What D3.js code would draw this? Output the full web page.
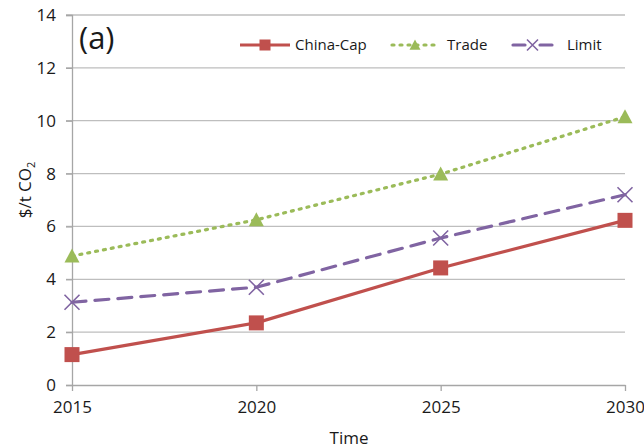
<!DOCTYPE html>
<html>
<head>
<meta charset="utf-8">
<script src="https://cdn.jsdelivr.net/npm/d3@7"></script>
<style>
  body { margin: 0; background: #fff; }
  svg text { font-family: "Open Sans", "Noto Sans", sans-serif; fill: #1a1a1a; }
</style>
</head>
<body>
<div id="chart"></div>
<script>
(function(){

var years = [2015, 2020, 2025, 2030];
var chinaCap = [1.15, 2.35, 4.43, 6.23];
var trade = [4.88, 6.25, 7.98, 10.15];
var limit = [3.13, 3.70, 5.56, 7.20];
var yTicks = [0, 2, 4, 6, 8, 10, 12, 14];

var series = [
  {name: "China-Cap", values: chinaCap, color: "#C0504D", dash: null, marker: "square"},
  {name: "Trade", values: trade, color: "#9BBB59", dash: "2,6", marker: "triangle"},
  {name: "Limit", values: limit, color: "#8064A2", dash: "14,9", marker: "x"}
];

var W = 644, H = 448;
var margin = {top: 15, right: 19, bottom: 63, left: 72};
var fs = "17px";

var svg = d3.select("#chart").append("svg")
  .attr("width", W).attr("height", H);

var x = d3.scalePoint().domain(years).range([margin.left, W - margin.right]);
var y = d3.scaleLinear().domain([0, 14]).range([H - margin.bottom, margin.top]);

// gridlines
svg.append("g")
  .selectAll("line")
  .data(yTicks.filter(function(d){ return d > 0; }))
  .enter().append("line")
    .attr("x1", margin.left - 6).attr("x2", W - margin.right)
    .attr("y1", function(d){ return y(d); }).attr("y2", function(d){ return y(d); })
    .style("stroke", "#BEBEBE").style("stroke-width", 1.3);

// y axis
var yAxis = svg.append("g")
  .attr("transform", "translate(" + margin.left + ",0)")
  .call(d3.axisLeft(y).tickValues(yTicks).tickSize(6).tickPadding(10))
  .attr("font-size", null).attr("font-family", null);
yAxis.select(".domain").style("stroke", "#A6A6A6").style("stroke-width", 1.3);
yAxis.selectAll(".tick line").style("stroke", "#A6A6A6").style("stroke-width", 1.3);
yAxis.selectAll("text").style("font-size", fs);

// x axis
var xAxis = svg.append("g")
  .attr("transform", "translate(0," + y(0) + ")")
  .call(d3.axisBottom(x).tickSize(6).tickSizeOuter(0).tickPadding(10))
  .attr("font-size", null).attr("font-family", null);
xAxis.select(".domain").style("stroke", "#A6A6A6").style("stroke-width", 1.3);
xAxis.selectAll(".tick line").style("stroke", "#A6A6A6").style("stroke-width", 1.3);
xAxis.selectAll("text").style("font-size", fs);

// axis titles
svg.append("text")
  .attr("x", 349)
  .attr("y", 444)
  .attr("text-anchor", "middle")
  .style("font-size", fs)
  .text("Time");

var yl = svg.append("text")
  .attr("transform", "translate(31,190) rotate(-90)")
  .attr("text-anchor", "middle")
  .style("font-size", fs);
yl.append("tspan").text("$/t CO");
yl.append("tspan").attr("dy", 4).style("font-size", "11px").text("2");

// panel label
svg.append("text")
  .attr("x", 79).attr("y", 49)
  .style("font-size", "31px")
  .text("(a)");

function drawMarker(g, type, color, size) {
  var s = size / 2;
  if (type === "square") {
    g.append("rect").attr("x", -s).attr("y", -s).attr("width", size).attr("height", size)
      .style("fill", color);
  } else if (type === "triangle") {
    g.append("path").attr("d", "M0," + (-s) + "L" + s + "," + (s * 0.85) + "L" + (-s) + "," + (s * 0.85) + "Z")
      .style("fill", color);
  } else {
    g.append("path").attr("d", "M" + (-s) + "," + (-s) + "L" + s + "," + s + "M" + s + "," + (-s) + "L" + (-s) + "," + s)
      .style("stroke", color).style("stroke-width", 1.6).style("fill", "none");
  }
}

var line = d3.line()
  .x(function(d, i){ return x(years[i]); })
  .y(function(d){ return y(d); });

series.forEach(function(s) {
  svg.append("path")
    .datum(s.values)
    .attr("d", line)
    .style("fill", "none")
    .style("stroke", s.color)
    .style("stroke-width", 3.2)
    .style("stroke-linecap", s.dash ? "round" : "butt")
    .style("stroke-dasharray", s.dash);
  s.values.forEach(function(v, i) {
    var g = svg.append("g").attr("transform", "translate(" + x(years[i]) + "," + y(v) + ")");
    drawMarker(g, s.marker, s.color, 15);
  });
});

// legend
var legendX = [240, 392, 513];
var legendLen = [50, 46, 39];
var textX = [295, 447, 567];
series.forEach(function(s, i) {
  var ly = 45;
  svg.append("line")
    .attr("x1", legendX[i]).attr("x2", legendX[i] + legendLen[i])
    .attr("y1", ly).attr("y2", ly)
    .style("stroke", s.color).style("stroke-width", 3.2)
    .style("stroke-linecap", s.dash ? "round" : "butt")
    .style("stroke-dasharray", s.dash ? (i === 1 ? "2,6" : "12,15") : null);
  var g = svg.append("g").attr("transform", "translate(" + (legendX[i] + legendLen[i] / 2) + "," + ly + ")");
  drawMarker(g, s.marker, s.color, 11);
  svg.append("text")
    .attr("x", textX[i]).attr("y", ly + 5)
    .style("font-size", "15px")
    .text(s.name);
});

})();
</script>
</body>
</html>
